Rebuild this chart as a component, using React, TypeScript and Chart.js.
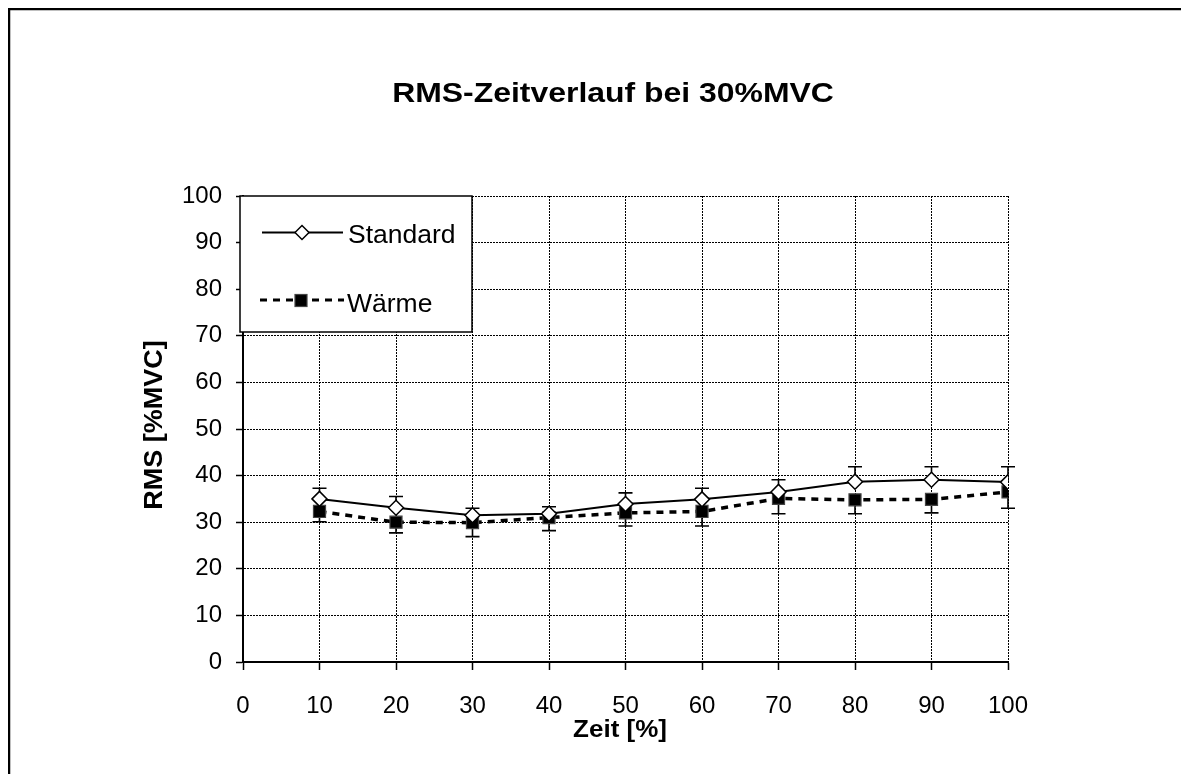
import React, { useEffect, useRef } from 'react';
import { Chart, registerables } from 'chart.js';
Chart.register(...registerables);

const titleText = 'RMS-Zeitverlauf bei 30%MVC';
const xTitle = 'Zeit [%]';
const yTitle = 'RMS [%MVC]';
const zeit = [10, 20, 30, 40, 50, 60, 70, 80, 90, 100];
const standard = [35.0, 33.1, 31.5, 31.8, 33.9, 34.9, 36.5, 38.7, 39.1, 38.6];
const standardErr = [2.3, 2.4, 1.5, 1.5, 2.4, 2.4, 2.6, 3.2, 2.8, 3.3];
const waerme = [32.3, 30.0, 29.9, 31.0, 32.0, 32.3, 35.1, 34.8, 34.9, 36.5];
const waermeErr = [2.2, 2.3, 3.0, 2.8, 2.8, 3.1, 3.3, 3.0, 2.9, 3.5];
const seriesNames = ['Standard', 'Wärme'];

const FONT = "'Liberation Sans', Arial, sans-serif";

function stretchedText(ctx: CanvasRenderingContext2D, text: string, x: number, y: number, font: string, sx: number, rotate = false) {
  ctx.save();
  ctx.translate(x, y);
  if (rotate) ctx.rotate(-Math.PI / 2);
  ctx.scale(sx, 1);
  ctx.font = font;
  ctx.fillStyle = '#000';
  ctx.textAlign = 'center';
  ctx.textBaseline = 'alphabetic';
  ctx.fillText(text, 0, 0);
  ctx.restore();
}

const decorPlugin = {
  id: 'decor',
  beforeDatasetsDraw(chart: any) {
    const ctx = chart.ctx as CanvasRenderingContext2D;
    const xs = chart.scales.x;
    const ys = chart.scales.y;
    ctx.save();
    ctx.strokeStyle = '#000';
    ctx.lineWidth = 1.6;
    ctx.setLineDash([]);
    const cap = 7;
    const drawBar = (xv: number, y0: number, y1: number) => {
      const px = xs.getPixelForValue(xv);
      const p0 = ys.getPixelForValue(y0);
      const p1 = ys.getPixelForValue(y1);
      ctx.beginPath();
      ctx.moveTo(px, p0);
      ctx.lineTo(px, p1);
      ctx.moveTo(px - cap, p1);
      ctx.lineTo(px + cap, p1);
      ctx.stroke();
    };
    zeit.forEach((z, i) => {
      drawBar(z, standard[i], standard[i] + standardErr[i]);
      drawBar(z, waerme[i], waerme[i] - waermeErr[i]);
    });
    ctx.restore();
  },
  afterDraw(chart: any) {
    const ctx = chart.ctx as CanvasRenderingContext2D;
    ctx.save();
    // outer frame (top & left visible)
    ctx.strokeStyle = '#000';
    ctx.lineWidth = 2.5;
    ctx.setLineDash([]);
    ctx.beginPath();
    ctx.moveTo(1, 2000);
    ctx.lineTo(1, 1);
    ctx.lineTo(2000, 1);
    ctx.stroke();

    // titles
    stretchedText(ctx, titleText, 605, 94, `bold 28.5px ${FONT}`, 1.12);
    stretchedText(ctx, xTitle, 612, 729, `bold 23px ${FONT}`, 1.13);
    stretchedText(ctx, yTitle, 154, 417, `bold 25px ${FONT}`, 1.08, true);

    // legend
    ctx.fillStyle = '#fff';
    ctx.fillRect(232, 188, 232, 136);
    ctx.strokeStyle = '#000';
    ctx.lineWidth = 1.5;
    ctx.strokeRect(232, 188, 232, 136);

    // Standard entry
    ctx.lineWidth = 2;
    ctx.beginPath();
    ctx.moveTo(254, 224.5);
    ctx.lineTo(335, 224.5);
    ctx.stroke();
    ctx.beginPath();
    ctx.moveTo(294 - 7, 224.5);
    ctx.lineTo(294, 224.5 - 7);
    ctx.lineTo(294 + 7, 224.5);
    ctx.lineTo(294, 224.5 + 7);
    ctx.closePath();
    ctx.fillStyle = '#fff';
    ctx.fill();
    ctx.lineWidth = 1.5;
    ctx.stroke();

    // Wärme entry
    ctx.lineWidth = 3;
    ctx.setLineDash([7, 6]);
    ctx.beginPath();
    ctx.moveTo(252, 292);
    ctx.lineTo(336, 292);
    ctx.stroke();
    ctx.setLineDash([]);
    ctx.fillStyle = '#000';
    ctx.fillRect(287, 286.5, 12, 12);
    ctx.strokeStyle = '#444';
    ctx.lineWidth = 1.2;
    ctx.strokeRect(287, 286.5, 12, 12);

    ctx.fillStyle = '#000';
    ctx.font = `26.5px ${FONT}`;
    ctx.textAlign = 'left';
    ctx.textBaseline = 'alphabetic';
    ctx.fillText(seriesNames[0], 340, 235);
    ctx.fillText(seriesNames[1], 339, 304);
    ctx.restore();
  },
};

export default function App() {
  const ref = useRef<HTMLCanvasElement>(null);
  useEffect(() => {
    if (!ref.current) return;
    const chart = new Chart(ref.current, {
      type: 'line',
      data: {
        datasets: [
          {
            label: seriesNames[0],
            data: zeit.map((z, i) => ({ x: z, y: standard[i] })),
            borderColor: '#000',
            borderWidth: 2,
            pointStyle: 'rectRot',
            pointRadius: 7.5,
            pointBackgroundColor: '#fff',
            pointBorderColor: '#000',
            pointBorderWidth: 1.5,
            tension: 0,
          },
          {
            label: seriesNames[1],
            data: zeit.map((z, i) => ({ x: z, y: waerme[i] })),
            borderColor: '#000',
            borderWidth: 3.5,
            borderDash: [7, 6],
            pointStyle: 'rect',
            pointRadius: 8.5,
            pointBackgroundColor: '#000',
            pointBorderColor: '#444',
            pointBorderWidth: 1.2,
            tension: 0,
          },
        ],
      },
      options: {
        animation: false,
        responsive: false,
        events: [],
        layout: { padding: { left: 0, top: 188, right: 181, bottom: 52 } },
        plugins: { legend: { display: false }, tooltip: { enabled: false }, title: { display: false } },
        scales: {
          x: {
            type: 'linear',
            min: 0,
            max: 100,
            afterFit: (s: any) => { s.height = 60; },
            ticks: { stepSize: 10, color: '#000', font: { family: FONT, size: 24 }, padding: 22, maxRotation: 0 },
            grid: { color: '#000', lineWidth: 1, tickLength: 8, tickBorderDash: [], tickWidth: 1.5 },
            border: { display: true, color: '#000', width: 2, dash: [2, 1] },
          },
          y: {
            min: 0,
            max: 100,
            afterFit: (s: any) => { s.width = 235; },
            ticks: { stepSize: 10, color: '#000', font: { family: FONT, size: 24 }, padding: 14 },
            grid: { color: '#000', lineWidth: 1, tickLength: 7, tickBorderDash: [], tickWidth: 1.5 },
            border: { display: true, color: '#000', width: 2, dash: [2, 1] },
          },
        },
      },
      plugins: [decorPlugin],
    });
    return () => chart.destroy();
  }, []);
  return (
    <div style={{ width: 1181, height: 766, overflow: 'hidden' }}>
      <canvas ref={ref} width={1181} height={766} style={{ display: 'block' }} />
    </div>
  );
}
